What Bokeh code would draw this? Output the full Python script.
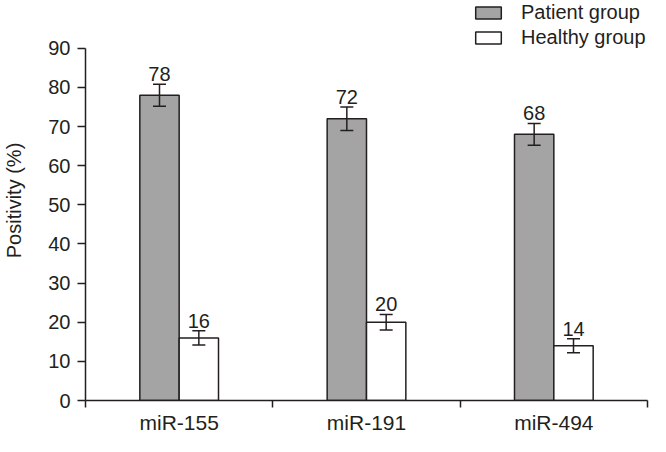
from bokeh.plotting import figure
from bokeh.models import (Range1d, FixedTicker, ColumnDataSource, Whisker, TeeHead,
                          Legend, LegendItem)
from bokeh.core.properties import value
from bokeh.embed import file_html
from bokeh.resources import INLINE

# ---- data ----
genes = ["miR-155", "miR-191", "miR-494"]
patient = [78, 72, 68]
healthy = [16, 20, 14]
patient_err = [2.8, 3.0, 2.8]
healthy_err = [1.8, 2.0, 1.8]
y_ticks = [0, 10, 20, 30, 40, 50, 60, 70, 80, 90]
series_names = ["Patient group", "Healthy group"]

FONT = "Liberation Sans"
INK = "#231f20"
GRAY = "#a3a4a3"
BAR_W = 0.21
Y_MAX = 90
Y_TOP = 102.2   # headroom above the axis for the legend

centers = [i + 0.5 for i in range(len(genes))]
px = [c - BAR_W / 2 for c in centers]
hx = [c + BAR_W / 2 for c in centers]

p = figure(width=650, height=436, output_backend="svg", toolbar_location=None,
           x_range=Range1d(0, len(genes)), y_range=Range1d(0, Y_TOP),
           min_border_left=85, min_border_right=3, min_border_top=0,
           min_border_bottom=35)
p.outline_line_color = None
p.grid.visible = False
p.background_fill_color = "white"
p.border_fill_color = "white"

src_p = ColumnDataSource(dict(x=px, top=patient,
                              lo=[v - e for v, e in zip(patient, patient_err)],
                              hi=[v + e for v, e in zip(patient, patient_err)],
                              lab=[str(v) for v in patient]))
src_h = ColumnDataSource(dict(x=hx, top=healthy,
                              lo=[v - e for v, e in zip(healthy, healthy_err)],
                              hi=[v + e for v, e in zip(healthy, healthy_err)],
                              lab=[str(v) for v in healthy]))

r1 = p.vbar(x="x", top="top", bottom=0, width=BAR_W, source=src_p,
            fill_color=GRAY, line_color=INK, line_width=1.5)
r2 = p.vbar(x="x", top="top", bottom=0, width=BAR_W, source=src_h,
            fill_color="white", line_color=INK, line_width=1.5)

for src in (src_p, src_h):
    w = Whisker(base="x", lower="lo", upper="hi", source=src, dimension="height",
                line_color=INK, line_width=1.5, level="overlay",
                upper_head=TeeHead(size=13, line_color=INK, line_width=1.5),
                lower_head=TeeHead(size=13, line_color=INK, line_width=1.5))
    p.add_layout(w)
    p.text(x="x", y="hi", text="lab", source=src, text_align="center",
           text_baseline="alphabetic", y_offset=-10, text_font=value(FONT),
           text_font_size="20px", text_color=INK)

# y axis
ya = p.yaxis[0]
ya.ticker = FixedTicker(ticks=y_ticks)
ya.bounds = (0, Y_MAX)
ya.axis_label = "Positivity (%)"
ya.axis_label_text_font = FONT
ya.axis_label_text_font_style = "normal"
ya.axis_label_text_font_size = "20px"
ya.axis_label_text_color = INK
ya.axis_label_standoff = 20
ya.major_label_text_font = FONT
ya.major_label_text_font_size = "20px"
ya.major_label_text_color = INK
ya.major_label_standoff = 7
ya.major_tick_out = 8
ya.major_tick_in = 0
ya.minor_tick_line_color = None
ya.axis_line_color = INK
ya.axis_line_width = 1.5
ya.major_tick_line_color = INK
ya.major_tick_line_width = 1.5

# x axis
xa = p.xaxis[0]
xa.ticker = FixedTicker(ticks=centers, minor_ticks=list(range(len(genes) + 1)))
xa.major_label_overrides = {c: g for c, g in zip(centers, genes)}
xa.major_label_text_font = FONT
xa.major_label_text_font_size = "21px"
xa.major_label_text_color = INK
xa.major_label_standoff = 3
xa.major_tick_line_color = None
xa.major_tick_out = 0
xa.major_tick_in = 0
xa.minor_tick_out = 7
xa.minor_tick_in = 0
xa.minor_tick_line_color = INK
xa.minor_tick_line_width = 1.5
xa.axis_line_color = INK
xa.axis_line_width = 1.5

legend = Legend(items=[LegendItem(label=series_names[0], renderers=[r1]),
                       LegendItem(label=series_names[1], renderers=[r2])],
                location=(387, 351), padding=0, margin=0, spacing=2,
                glyph_width=32, glyph_height=15, label_height=20,
                label_standoff=17, label_text_font=FONT,
                label_text_font_size="20px", label_text_color=INK,
                border_line_color=None, background_fill_alpha=0)
p.add_layout(legend)

open("out.html", "w").write(file_html(p, INLINE))
